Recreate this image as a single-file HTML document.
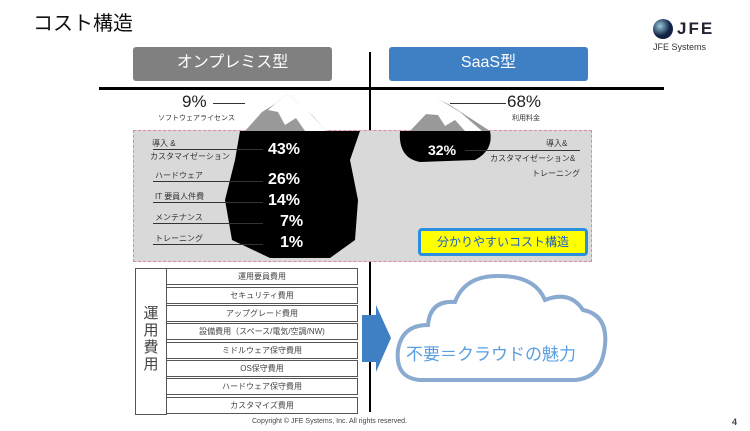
<!DOCTYPE html><html><head><meta charset="utf-8"><style>
body{margin:0;width:750px;height:431px;background:#fff;position:relative;overflow:hidden;font-family:"Liberation Sans","Noto Sans CJK JP",sans-serif}
.a{position:absolute}
.lbl{position:absolute;font-size:8px;color:#333;white-space:nowrap}
.ln{position:absolute;height:1px;background:#333}
.pct{position:absolute;color:#fff;font-size:16px;font-weight:bold}
.row{position:absolute;left:166px;width:192px;height:17px;border:1px solid #555;box-sizing:border-box;font-size:8px;color:#444;text-align:center;line-height:16px}
</style></head><body>
<div class="a" style="left:33px;top:7px;font-size:20px;color:#111">コスト構造</div>
<svg class="a" style="left:652px;top:18px" width="22" height="22"><defs><radialGradient id="g" cx="35%" cy="35%"><stop offset="0" stop-color="#9cd"/><stop offset="1" stop-color="#124"/></radialGradient></defs><circle cx="11" cy="11" r="10" fill="url(#g)"/></svg>
<div class="a" style="left:677px;top:19px;font-size:17px;font-weight:bold;color:#223;letter-spacing:2px">JFE</div>
<div class="a" style="left:653px;top:42px;font-size:9px;color:#333">JFE Systems</div>
<div class="a" style="left:133px;top:47px;width:199px;height:34px;background:#808080;border-radius:3px;color:#fff;font-size:16px;text-align:center;line-height:32px">オンプレミス型</div>
<div class="a" style="left:389px;top:47px;width:199px;height:34px;background:#3f7fc4;border-radius:3px;color:#fff;font-size:16px;text-align:center;line-height:32px">SaaS型</div>
<div class="a" style="left:99px;top:87px;width:565px;height:3px;background:#000"></div>
<div class="a" style="left:369px;top:52px;width:2px;height:360px;background:#000"></div>
<div class="a" style="left:133px;top:130px;width:459px;height:132px;background:#d9d9d9;border:1px dashed #e08a9a;box-sizing:border-box"></div>
<svg class="a" style="left:0;top:0" width="750" height="431">
<polygon points="245,131 262,112 275,104 287,94 300,104 313,116 326,131" fill="#999"/>
<polygon points="268,110 287,94 305,108 318,122 326,131 305,131 296,118 285,125 278,112" fill="#fff"/>
<path d="M240,131 L360,131 L350,160 L358,200 L355,240 L330,258 L270,258 L232,240 L225,200 L235,160 Z" fill="#000"/>
<polygon points="410,131 428,112 440,100 450,105 470,118 490,131" fill="#999"/>
<polygon points="425,114 440,100 460,112 482,131 465,131 455,120 445,126 438,115" fill="#fff"/>
<path d="M400,131 L490,131 Q494,150 475,160 L420,162 Q398,158 400,131 Z" fill="#000"/>
<polygon points="362,315 376,315 376,305 391,338 376,372 376,362 362,362" fill="#3f7fc4"/>
<path d="M420,380 Q395,378 398,350 Q402,325 428,325 Q430,300 455,302 Q465,275 500,276 Q535,276 545,300 Q570,290 583,310 Q608,315 605,345 Q602,378 575,380 Z" fill="#fff" stroke="#8aaad0" stroke-width="4"/>
</svg>
<div class="a" style="left:182px;top:92px;font-size:17px;color:#222">9%</div><div class="ln" style="left:213px;top:103px;width:32px"></div>
<div class="lbl" style="left:158px;top:113px;font-size:7px">ソフトウェアライセンス</div>
<div class="lbl" style="left:152px;top:138px">導入 &amp;</div>
<div class="lbl" style="left:150px;top:151px">カスタマイゼーション</div><div class="ln" style="left:153px;top:149px;width:110px"></div>
<div class="pct" style="left:268px;top:141px">43%</div>
<div class="lbl" style="left:155px;top:170px">ハードウェア</div><div class="ln" style="left:153px;top:181px;width:110px"></div>
<div class="pct" style="left:268px;top:171px">26%</div>
<div class="lbl" style="left:155px;top:191px">IT 要員人件費</div><div class="ln" style="left:153px;top:202px;width:110px"></div>
<div class="pct" style="left:268px;top:192px">14%</div>
<div class="lbl" style="left:155px;top:212px">メンテナンス</div><div class="ln" style="left:153px;top:223px;width:110px"></div>
<div class="pct" style="left:280px;top:213px">7%</div>
<div class="lbl" style="left:155px;top:233px">トレーニング</div><div class="ln" style="left:153px;top:244px;width:110px"></div>
<div class="pct" style="left:280px;top:234px">1%</div>
<div class="a" style="left:507px;top:92px;font-size:17px;color:#222">68%</div><div class="ln" style="left:450px;top:103px;width:56px"></div>
<div class="lbl" style="left:512px;top:113px;font-size:7px">利用料金</div>
<div class="pct" style="left:428px;top:142px;font-size:14px">32%</div><div class="ln" style="left:465px;top:150px;width:115px"></div>
<div class="lbl" style="left:546px;top:138px">導入&amp;</div>
<div class="lbl" style="left:490px;top:153px">カスタマイゼーション&amp;</div>
<div class="lbl" style="left:532px;top:168px">トレーニング</div>
<div class="a" style="left:418px;top:228px;width:170px;height:28px;background:#ff0;border:3px solid #2b8fe0;border-radius:4px;box-sizing:border-box;color:#1a5fc0;font-size:12px;text-align:center;line-height:22px">分かりやすいコスト構造</div>
<div class="a" style="left:135px;top:268px;width:32px;height:147px;border:1px solid #555;box-sizing:border-box;font-size:15px;color:#444;text-align:center;line-height:17px;padding-top:36px">運<br>用<br>費<br>用</div>
<div class="row" style="top:268px">運用要員費用</div>
<div class="row" style="top:287px">セキュリティ費用</div>
<div class="row" style="top:305px">アップグレード費用</div>
<div class="row" style="top:323px">設備費用（スペース/電気/空調/NW)</div>
<div class="row" style="top:342px">ミドルウェア保守費用</div>
<div class="row" style="top:360px">OS保守費用</div>
<div class="row" style="top:378px">ハードウェア保守費用</div>
<div class="row" style="top:397px">カスタマイズ費用</div>
<div class="a" style="left:406px;top:340px;font-size:17px;color:#5a9ee0">不要＝クラウドの魅力</div>
<div class="a" style="left:252px;top:418px;font-size:7px;color:#444">Copyright © JFE Systems, Inc. All rights reserved.</div>
<div class="a" style="left:732px;top:417px;font-size:9px;font-weight:bold;color:#444">4</div>
</body></html>
